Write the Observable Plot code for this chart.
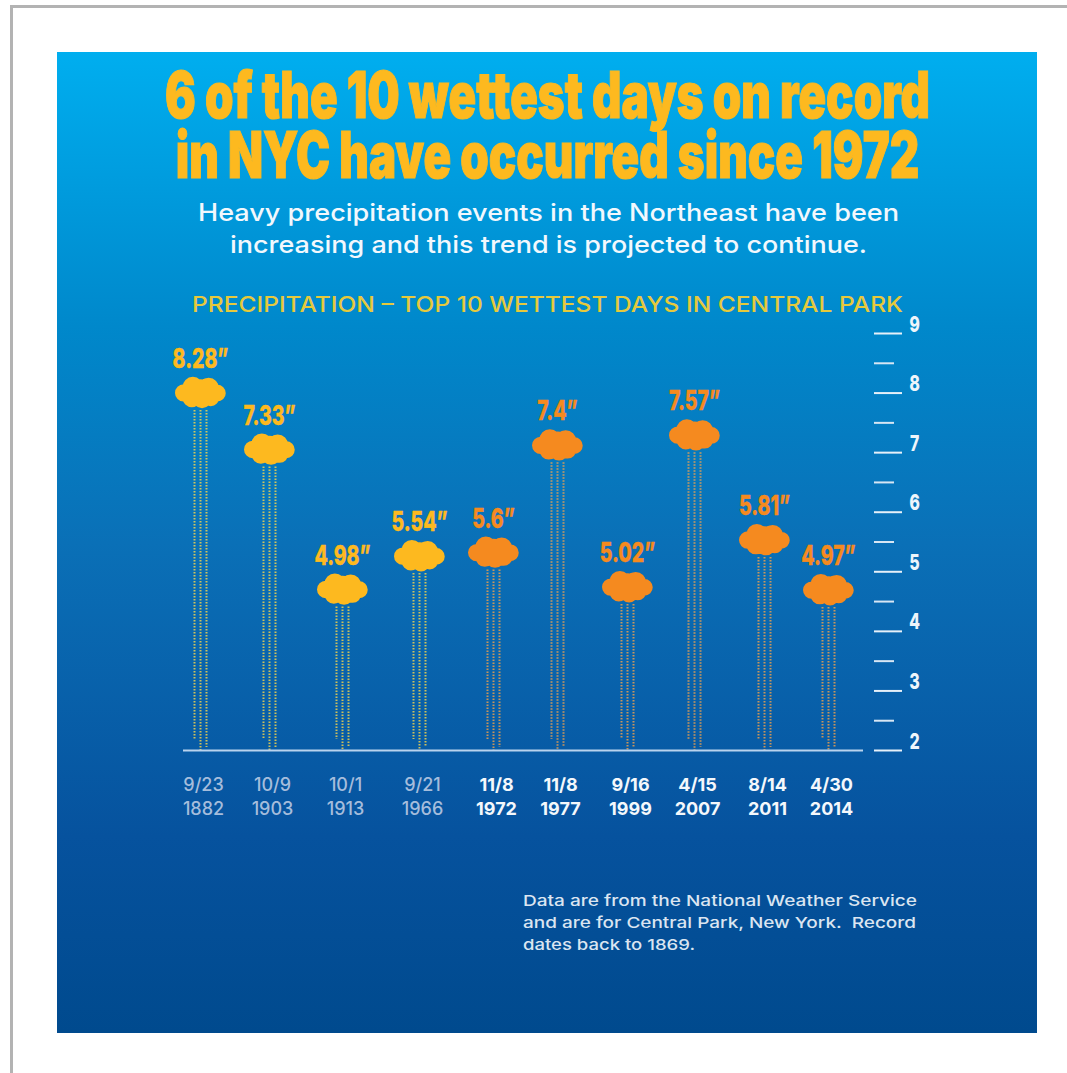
<!DOCTYPE html>
<html>
<head>
<meta charset="utf-8">
<script src="https://cdn.jsdelivr.net/npm/d3@7"></script>
<script src="https://cdn.jsdelivr.net/npm/@observablehq/plot@0.6"></script>
<style>
  html, body { margin: 0; padding: 0; background: #fff; }
  #page { position: relative; width: 1067px; height: 1073px; overflow: hidden; background: #fff; }
  #frameTop { position: absolute; left: 10px; top: 5px; right: 0; height: 3px; background: #b3b3b3; }
  #frameLeft { position: absolute; left: 10px; top: 5px; bottom: 0; width: 3px; background: #b3b3b3; }
  #panel { position: absolute; left: 57px; top: 52px; width: 980px; height: 981px;
    background: linear-gradient(#00aeef 0%, #0088cb 28%, #0a70b7 50%, #06529e 80%, #004a8e 100%); }
  #page svg { position: absolute; left: 0; top: 0; background: transparent; }
  .line { position: absolute; white-space: pre; transform-origin: 0 50%; line-height: 1; }
  .title { font: 900 64px/60px Inter, sans-serif; color: #fdb91f; -webkit-text-stroke: 1.2px #fdb91f; text-align: center; }
  .sub { font: 500 24px Inter, sans-serif; color: #f2f8fd; }
  .head { font: 500 21px Inter, sans-serif; color: #e6c93c; }
  .note { font: 500 15px Inter, sans-serif; color: #dbe5f1; }
</style>
</head>
<body>
<div id="page">
  <div id="frameTop"></div><div id="frameLeft"></div>
  <div id="panel"></div>
</div>
<script>
// Ten wettest days in Central Park, inches of rain, in date order.
const days = ["9/23\n1882", "10/9\n1903", "10/1\n1913", "9/21\n1966", "11/8\n1972",
              "11/8\n1977", "9/16\n1999", "4/15\n2007", "8/14\n2011", "4/30\n2014"];
const inches = [8.28, 7.33, 4.98, 5.54, 5.6, 7.4, 5.02, 7.57, 5.81, 4.97];
const recent = [false, false, false, false, true, true, true, true, true, true];
const majorTicks = [2, 3, 4, 5, 6, 7, 8, 9];
const minorTicks = [2.5, 3.5, 4.5, 5.5, 6.5, 7.5, 8.5];

const rows = days.map((day, i) => ({i, day, value: inches[i], recent: recent[i]}));
const older = rows.filter((d) => !d.recent);
const newer = rows.filter((d) => d.recent);

const YELLOW = "#fdb91f", ORANGE = "#f58a1f";
const HEAVY = "Inter, sans-serif";

// Puffy cloud built from overlapping circles, in units of half its width.
const cloud = {
  draw(ctx, size) {
    const R = Math.sqrt(size / Math.PI);
    const lobes = [[-0.66, 0.02, 0.34], [-0.3, -0.2, 0.41], [0.32, -0.16, 0.41], [0.66, 0.03, 0.33],
                   [-0.34, 0.22, 0.36], [0.06, 0.24, 0.38], [0.4, 0.2, 0.34], [0, 0, 0.52]];
    for (const [x, y, r] of lobes) {
      ctx.moveTo((x + r) * R, y * R);
      ctx.arc(x * R, y * R, r * R, 0, 2 * Math.PI);
    }
  }
};

// Three dotted strands of rain under each cloud; the outer left one stops short.
const rain = (data, color) => [[-6, 11], [0, 0], [6, 3]].map(([dx, insetBottom]) =>
  Plot.ruleX(data, {
    x: "i", y1: "value", y2: 2, dx, insetTop: 34, insetBottom,
    stroke: color, strokeWidth: 2, strokeDasharray: "1.5 1.5", strokeOpacity: 0.8
  }));

const clouds = (data, color) => Plot.dot(data, {
  x: "i", y: "value", r: 25.5, dy: 16, symbol: cloud, fill: color, stroke: null
});

const values = (data, color) => Plot.text(data, {
  x: "i", y: "value", text: (d) => `${d.value}”`, dy: -17,
  fill: color, stroke: color, strokeWidth: 0.4, className: "value-label",
  fontFamily: HEAVY, fontWeight: 800, fontSize: 27
});

const dates = (data, color, weight) => Plot.text(data, {
  x: "i", y: 2, dx: 3, dy: 45, text: "day", lineHeight: 1.3,
  fill: color, fontFamily: "Inter, sans-serif", fontWeight: weight, fontSize: 18
});

const chart = Plot.plot({
  width: 1067, height: 1073,
  marginLeft: 183, marginRight: 194, marginTop: 333, marginBottom: 323,
  style: {background: "transparent"},
  // Columns were spaced by hand, so the position scale is piecewise.
  x: {type: "linear", axis: null, domain: d3.range(10),
      range: [200, 269, 342, 419, 493, 557, 627, 694, 764, 828]},
  y: {domain: [2, 9], axis: null},
  marks: [
    rain(older, "#ffd84a"), rain(newer, "#f7a24a"),
    Plot.ruleY([2], {stroke: "#b9d3ee", strokeWidth: 2, insetRight: 10}),
    clouds(older, YELLOW), clouds(newer, ORANGE),
    values(older, YELLOW), values(newer, ORANGE),
    dates(older, "#a5bddc", 500), dates(newer, "#f4f8fc", 700),
    Plot.axisY(minorTicks, {anchor: "right", tickSize: 20, stroke: "#d7e6f4", strokeWidth: 2,
      fill: "none", label: null}),
    Plot.axisY(majorTicks, {anchor: "right", tickSize: 28, stroke: "#e6f0f9", strokeWidth: 2,
      fill: "none", label: null}),
    Plot.axisY(majorTicks, {anchor: "right", tickSize: 0, tickPadding: 36, dy: -9, color: "#eef5fb",
      fontFamily: HEAVY, fontWeight: 800, fontSize: 22, label: null, tickFormat: (d) => d})
  ]
});
const page = document.getElementById("page");
page.appendChild(chart);

// The display face is condensed: squeeze the chart's bold numerals to that width.
function squeeze(selector, factor) {
  d3.select(chart).selectAll(selector).each(function () {
    this.setAttribute("lengthAdjust", "spacingAndGlyphs");
    this.setAttribute("textLength", this.getComputedTextLength() * factor);
  });
}
squeeze(".value-label text", 0.72);
squeeze('g[aria-label="y-axis tick label"] text', 0.72);

// Page text: each block is stretched to its set width and centred on its y.
function place(text, cls, x0, x1, yMid) {
  const el = document.createElement("div");
  el.className = "line " + cls;
  el.textContent = text;
  page.appendChild(el);
  const box = el.getBoundingClientRect();
  el.style.left = x0 + "px";
  el.style.top = (yMid - box.height / 2) + "px";
  el.style.transform = `scaleX(${(x1 - x0) / box.width})`;
}
place("6 of the 10 wettest days on record\nin NYC have occurred since 1972", "title", 165, 930, 125);
place("Heavy precipitation events in the Northeast have been", "sub", 198, 899, 212);
place("increasing and this trend is projected to continue.", "sub", 230, 867, 244);
place("PRECIPITATION – TOP 10 WETTEST DAYS IN CENTRAL PARK", "head", 192, 903, 304);
place("Data are from the National Weather Service", "note", 523, 917, 900);
place("and are for Central Park, New York.  Record", "note", 523, 916, 922);
place("dates back to 1869.", "note", 523, 695, 944);
</script>
</body>
</html>
